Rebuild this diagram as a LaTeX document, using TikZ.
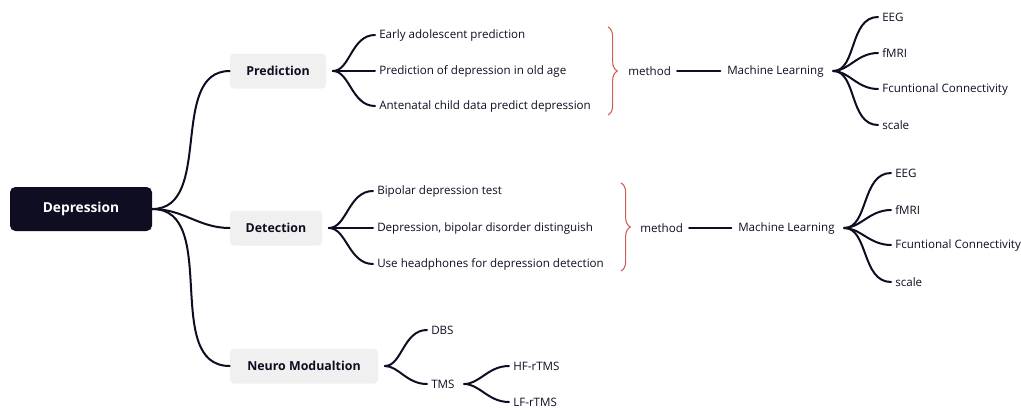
\documentclass[tikz,border=0pt]{standalone}
\usepackage{fontspec}
\setmainfont{Open Sans}
\usetikzlibrary{decorations.pathreplacing}

\definecolor{inkdark}{RGB}{14,13,33}
\definecolor{boxgray}{RGB}{240,240,240}
\definecolor{bracered}{RGB}{205,95,85}

\tikzset{
  link/.style={inkdark,line width=1.5pt,line cap=round},
  leaf/.style={anchor=west,inner xsep=3pt,inner ysep=1pt,text=inkdark,font=\fontsize{8.7}{10}\selectfont},
  topic/.style={fill=boxgray,rounded corners=3pt,minimum height=26.25pt,text=inkdark,font=\fontsize{9.3}{11}\selectfont\bfseries},
  curly/.style={bracered,line width=0.8pt,decorate,decoration={brace,amplitude=7pt}},
}

\begin{document}
\begin{tikzpicture}[x=0.75pt,y=-0.75pt]
\useasboundingbox (0,0) rectangle (1021,407);

% root and main topics
\node[fill=inkdark,text=white,rounded corners=4pt,minimum width=106.5pt,minimum height=33pt,font=\fontsize{10.3}{12}\selectfont\bfseries] (dep) at (81,209) {Depression};
\node[topic,minimum width=72pt] (pred) at (278,71) {Prediction};
\node[topic,minimum width=69pt] (det) at (276,228) {Detection};
\node[topic,minimum width=111pt] (neuro) at (304,366) {Neuro Modualtion};

\foreach \n in {pred,det,neuro}
  \draw[link] (dep.east) to[out=0,in=180] (\n.west);

% prediction
\foreach \k/\y/\t in {1/35/Early adolescent prediction,2/71/Prediction of depression in old age,3/106/Antenatal child data predict depression}{
  \node[leaf] (pred\k) at (375,\y) {\t};
  \draw[link,shorten <=5pt] (pred.east) to[out=0,in=180] (pred\k.west);
}
\draw[curly] (608,27) -- (608,115);
\node[leaf] (meth1) at (624,71) {method};
\node[leaf] (ml1) at (723,71) {Machine Learning};
\draw[link,shorten <=1.5pt,shorten >=2pt] (meth1.east) -- (ml1.west);
\foreach \k/\y/\t in {1/17/EEG,2/53/fMRI,3/89/Fcuntional Connectivity,4/125/scale}{
  \node[leaf] (mla\k) at (878,\y) {\t};
  \draw[link,shorten <=4pt] (ml1.east) to[out=0,in=180] (mla\k.west);
}

% detection
\foreach \k/\y/\t in {1/191/Bipolar depression test,2/228/{Depression, bipolar disorder distinguish},3/264/Use headphones for depression detection}{
  \node[leaf] (det\k) at (373,\y) {\t};
  \draw[link,shorten <=5pt] (det.east) to[out=0,in=180] (det\k.west);
}
\draw[curly] (621,183) -- (621,271);
\node[leaf] (meth2) at (636,228) {method};
\node[leaf] (ml2) at (734,228) {Machine Learning};
\draw[link,shorten <=1.5pt,shorten >=2pt] (meth2.east) -- (ml2.west);
\foreach \k/\y/\t in {1/173/EEG,2/210/fMRI,3/245/Fcuntional Connectivity,4/282/scale}{
  \node[leaf] (mlb\k) at (891,\y) {\t};
  \draw[link,shorten <=4pt] (ml2.east) to[out=0,in=180] (mlb\k.west);
}

% neuro modulation
\node[leaf] (dbs) at (427,330) {DBS};
\node[leaf] (tms) at (427,384) {TMS};
\foreach \n in {dbs,tms}
  \draw[link,shorten <=5pt] (neuro.east) to[out=0,in=180] (\n.west);
\node[leaf] (hf) at (509,366) {HF-rTMS};
\node[leaf] (lf) at (509,402) {LF-rTMS};
\foreach \n in {hf,lf}
  \draw[link,shorten <=4pt] (tms.east) to[out=0,in=180] (\n.west);

\end{tikzpicture}
\end{document}
